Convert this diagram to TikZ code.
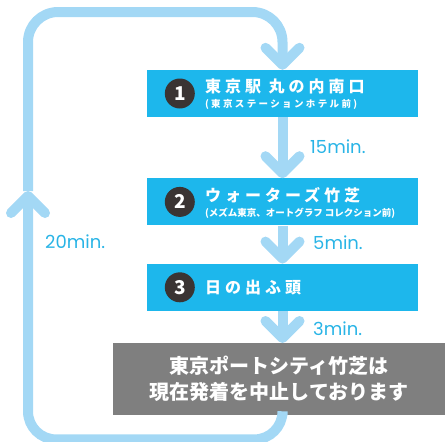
\documentclass[tikz,border=0pt]{standalone}
\usepackage{fontspec}
\usepackage{tikz}
\usetikzlibrary{positioning}
\usetikzlibrary{arrows.meta}

\newfontfamily\jpfont{Noto Sans CJK JP}
\newfontfamily\jpwide{Noto Sans CJK JP}[LetterSpace=25]
\newfontfamily\minfont{Poppins}

\definecolor{loopblue}{HTML}{A3D8F5}
\definecolor{stopcyan}{HTML}{1DB7EC}
\definecolor{closedgray}{HTML}{7F7F7F}
\definecolor{numdark}{HTML}{3A3433}
\definecolor{mintext}{HTML}{29B4E6}

\tikzset{
  stopbox/.style={fill=stopcyan, minimum width=271pt, minimum height=47pt, inner sep=0pt},
  closedbox/.style={fill=closedgray, minimum width=332pt, minimum height=72pt, inner sep=0pt,
    text=white, align=center, font=\jpfont\bfseries\fontsize{20}{26}\selectfont},
  numdot/.style={circle, fill=numdark, minimum size=30pt, inner sep=0pt, text=white,
    font=\jpfont\bfseries\fontsize{19}{19}\selectfont},
  stoptitle/.style={anchor=west, inner sep=0pt, text=white, font=\jpwide\bfseries\fontsize{16}{16}\selectfont},
  stopnote/.style={anchor=west, inner sep=0pt, text=white, font=\jpfont\bfseries\fontsize{9.5}{9.5}\selectfont},
  widenote/.style={stopnote, font=\jpwide\bfseries\fontsize{9.5}{9.5}\selectfont},
  mins/.style={anchor=west, inner sep=0pt, text=mintext, font=\minfont\fontsize{18}{18}\selectfont},
  flow/.style={draw=loopblue, line width=10pt, -{Straight Barb[length=17pt, width=34pt, round]}},
}

\begin{document}
\begin{tikzpicture}[x=1pt, y=-1pt]
    \useasboundingbox (0,0) rectangle (445,442);

    \node [stopbox] (stop1) at (282.5,93.5) {};
    \node [stopbox, below=61pt of stop1] (stop2) {};
    \node [stopbox, below=38pt of stop2] (stop3) {};
    \node [closedbox, below=32pt of stop3, xshift=-3.5pt] (closed) {東京ポートシティ竹芝は\\現在発着を中止しております};

    \node [numdot] (num1) at ([xshift=33pt]stop1.west) {1};
    \node [numdot] (num2) at ([xshift=33pt]stop2.west) {2};
    \node [numdot] (num3) at ([xshift=33pt]stop3.west) {3};

    \node [stoptitle] (name1) at ([xshift=58pt, yshift=7.5pt]stop1.west) {東京駅 丸の内南口};
    \node [widenote] (note1) at ([xshift=58pt, yshift=-10.5pt]stop1.west) {(東京ステーションホテル前)};
    \node [stoptitle] (name2) at ([xshift=58pt, yshift=6.5pt]stop2.west) {ウォーターズ竹芝};
    \node [stopnote] (note2) at ([xshift=58pt, yshift=-11.5pt]stop2.west) {(メズム東京、オートグラフ コレクション前)};
    \node [stoptitle] (name3) at ([xshift=58pt]stop3.west) {日の出ふ頭};

    \node [mins] (min1) at (310,147) {15min.};
    \node [mins] (min2) at (313,243) {5min.};
    \node [mins] (min3) at (313,329) {3min.};
    \node [mins] (min4) at (45,242) {20min.};

    % stops in order
    \draw [flow] (stop1.south) -- (stop2.north);
    \draw [flow] (stop2.south) -- (stop3.north);
    \draw [flow] (stop3.south) -- (stop3.south |- closed.north);

    % way back round the loop
    \coordinate (back) at (28,191);
    \draw [flow, rounded corners=28pt] (stop3.south |- closed.south) -- ++(0,24) -| (back);
    \draw [flow, rounded corners=30pt] (back) -- (28,12) -| (stop1.north);
\end{tikzpicture}
\end{document}
